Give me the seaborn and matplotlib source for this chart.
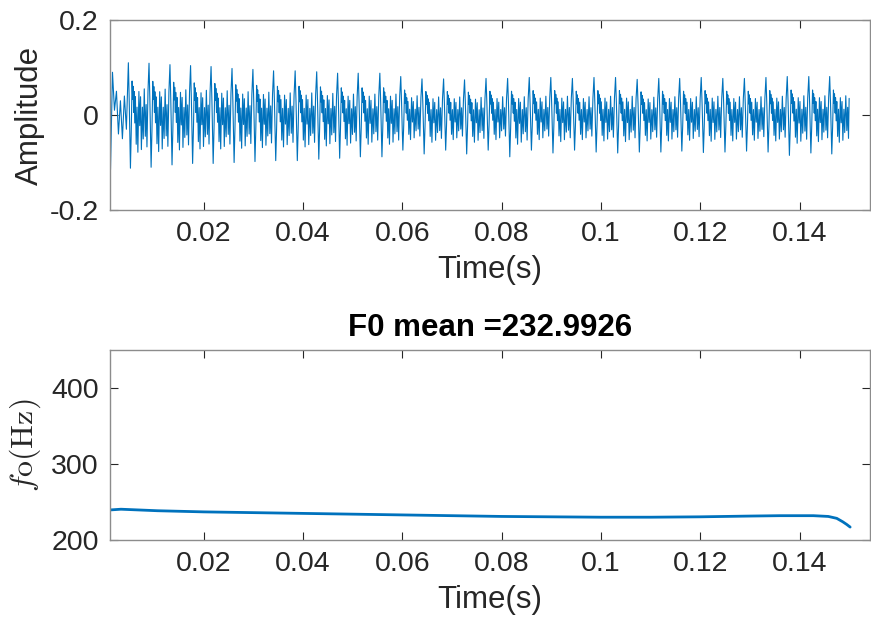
import numpy as np
import pandas as pd
import matplotlib
matplotlib.use("Agg")
import matplotlib.pyplot as plt
import seaborn as sns

# ---------------- data ----------------
# times (s) of the main positive peaks of the waveform
peak_times = [0.0048, 0.00896, 0.01318, 0.01733, 0.02146, 0.02568, 0.02989, 0.03405,
              0.0384, 0.04274, 0.04695, 0.0511, 0.05546, 0.05967, 0.06395, 0.0683,
              0.07252, 0.07685, 0.0812, 0.08556, 0.0899, 0.09425, 0.0986, 0.10294,
              0.1073, 0.11165, 0.11586, 0.1202, 0.12455, 0.1289, 0.13324, 0.13753,
              0.14187, 0.14608]
# height of each main peak
peak_amp = [0.110, 0.109, 0.106, 0.104, 0.102, 0.098, 0.096, 0.093, 0.093, 0.091, 0.088,
            0.088, 0.088, 0.081, 0.076, 0.076, 0.074, 0.077, 0.077, 0.079, 0.079, 0.077, 0.079,
            0.079, 0.075, 0.077, 0.077, 0.079, 0.077, 0.077, 0.079, 0.081, 0.081, 0.081]
# depth of the main trough following each peak
trough_amp = [0.112, 0.110, 0.105, 0.102, 0.102, 0.100, 0.098, 0.096, 0.096, 0.093, 0.091,
              0.088, 0.088, 0.074, 0.082, 0.074, 0.082, 0.074, 0.088, 0.074, 0.080, 0.074, 0.078,
              0.080, 0.078, 0.078, 0.076, 0.079, 0.078, 0.076, 0.078, 0.085, 0.080, 0.082]
# shape of one glottal period (phase within the period, relative level)
cycle_phase = [0.00, 0.04, 0.07, 0.10, 0.14, 0.18, 0.21, 0.23, 0.26, 0.28, 0.31, 0.34, 0.38,
               0.42, 0.46, 0.51, 0.55, 0.59, 0.63, 0.68, 0.72, 0.77, 0.82, 0.86, 0.90, 0.95]
cycle_level = [1.00, 0.30, -0.40, -1.00, -0.30, 0.65, 0.30, 0.55, 0.05, 0.45, -0.15, 0.35, -0.55,
               0.15, -0.70, 0.45, -0.20, 0.35, -0.65, 0.15, -0.45, 0.50, -0.40, 0.20, -0.60, 0.45]
# samples before the first full period and the final sample
lead_t = [0.0010, 0.0012, 0.0016, 0.0020, 0.0024, 0.0028, 0.0032, 0.0036, 0.0040, 0.0044]
lead_v = [0.030, -0.115, 0.090, 0.010, 0.050, -0.040, 0.030, -0.050, 0.040, -0.030]
tail_t = [0.1500]
tail_v = [0.035]

# F0 contour
f0_t = [0.001, 0.0033, 0.0107, 0.02, 0.03, 0.04, 0.05, 0.06, 0.07, 0.08, 0.09, 0.1, 0.11,
        0.12, 0.13, 0.136, 0.1428, 0.1458, 0.1475, 0.1487, 0.1495, 0.1502]
f0_v = [239.5, 240.5, 238.5, 237.0, 236.0, 235.0, 234.0, 233.0, 232.0, 231.0, 230.5, 230.0, 230.0,
        230.5, 231.5, 232.0, 232.0, 231.0, 228.5, 224.0, 220.5, 217.0]
f0_mean_text = "F0 mean =232.9926"

# ---------------- assemble waveform from the read values ----------------
wt, wv = list(lead_t), list(lead_v)
for i, T0 in enumerate(peak_times):
    T1 = peak_times[i + 1] if i + 1 < len(peak_times) else T0 + (T0 - peak_times[i - 1])
    for p, lv in zip(cycle_phase, cycle_level):
        t = T0 + p * (T1 - T0)
        if t >= tail_t[0]:
            break
        wt.append(t)
        wv.append(lv * (peak_amp[i] if lv > 0 else trough_amp[i]))
wt += tail_t
wv += tail_v
wave = pd.DataFrame({"t": wt, "v": wv})
f0 = pd.DataFrame({"t": f0_t, "f": f0_v})

# ---------------- style ----------------
sns.set_theme(style="white")
plt.rcParams["font.family"] = ["Liberation Sans", "DejaVu Sans"]
plt.rcParams["mathtext.fontset"] = "cm"
dark = "#262626"
blue = "#0072BD"

fig = plt.figure(figsize=(8.71, 6.33), dpi=100)
W, H = 871, 633
L, R = 110, 870
ax1 = fig.add_axes([L / W, 1 - 210 / H, (R - L) / W, 190 / H])
ax2 = fig.add_axes([L / W, 1 - 540 / H, (R - L) / W, 190 / H])

sns.lineplot(data=wave, x="t", y="v", ax=ax1, color=blue, linewidth=0.8,
             estimator=None, sort=False)
sns.lineplot(data=f0, x="t", y="f", ax=ax2, color=blue, linewidth=2.0,
             estimator=None, sort=False)

xt = [0.02, 0.04, 0.06, 0.08, 0.1, 0.12, 0.14]
xtl = ["0.02", "0.04", "0.06", "0.08", "0.1", "0.12", "0.14"]
for ax in (ax1, ax2):
    ax.set_xlim(0.0011, 0.1542)
    ax.set_xticks(xt)
    ax.set_xticklabels(xtl)
    for s in ax.spines.values():
        s.set_visible(True)
        s.set_color("#8c8c8c")
        s.set_linewidth(1.0)
    ax.tick_params(direction="in", length=6, width=0.8, color=dark, labelcolor=dark,
                   labelsize=20.5, top=True, right=True, bottom=True, left=True, pad=8)
    ax.set_xlabel("Time(s)", fontsize=22.5, color=dark, labelpad=6)

ax1.set_ylim(-0.2, 0.2)
ax1.set_yticks([-0.2, 0, 0.2])
ax1.set_yticklabels(["-0.2", "0", "0.2"])
ax1.set_ylabel("Amplitude", fontsize=22.5, color=dark)
ax1.yaxis.set_label_coords(-0.085, 0.5)

ax2.set_ylim(200, 450)
ax2.set_yticks([200, 300, 400])
ax2.set_yticklabels(["200", "300", "400"])
ax2.set_ylabel(r"$f\mathrm{o}(\mathrm{Hz})$", fontsize=23, color=dark)
ax2.yaxis.set_label_coords(-0.088, 0.5)
ax2.set_title(f0_mean_text, fontsize=22.5, fontweight="bold", color="black", pad=10)

fig.savefig("out.png", dpi=100, facecolor="white")
